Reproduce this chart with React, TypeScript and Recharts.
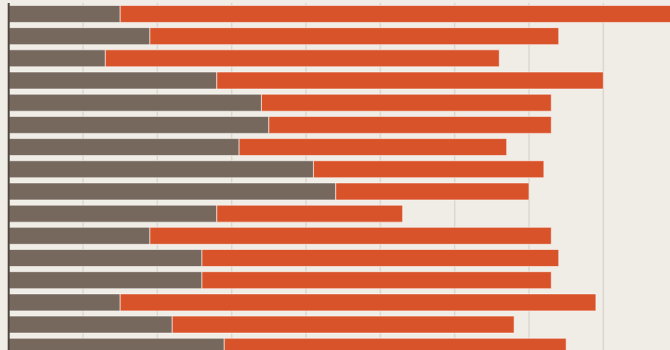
import { BarChart, Bar, XAxis, YAxis, CartesianGrid, ReferenceLine } from 'recharts';

// rows top to bottom, the chart is cropped so no labels show
const rows = ['r01', 'r02', 'r03', 'r04', 'r05', 'r06', 'r07', 'r08', 'r09', 'r10', 'r11', 'r12', 'r13', 'r14', 'r15', 'r16'];
const greyValues = [15, 19, 13, 28, 34, 35, 31, 41, 44, 28, 19, 26, 26, 15, 22, 29];
const redValues = [78, 55, 53, 52, 39, 38, 36, 31, 26, 25, 54, 48, 47, 64, 46, 46];
const xTicks = [0, 10, 20, 30, 40, 50, 60, 70, 80, 90, 100];

const data = rows.map((name, i) => ({ name, grey: greyValues[i], red: redValues[i] }));

const BG = '#f0ede6';

export default function App() {
  return (
    <div
      style={{
        position: 'fixed',
        top: 0,
        left: 0,
        width: 670,
        height: 350,
        overflow: 'hidden',
        background: BG,
      }}
    >
      <BarChart
        width={760}
        height={358}
        data={data}
        layout="vertical"
        margin={{ top: 3, right: 8, bottom: 0, left: 8.7 }}
        barCategoryGap="11%"
      >
        <CartesianGrid horizontal={false} stroke="#dcd8d0" strokeWidth={1.5} />
        <XAxis type="number" domain={[0, 100]} ticks={xTicks} hide />
        <YAxis type="category" dataKey="name" hide />
        <Bar dataKey="grey" stackId="a" fill="#76685d" stroke="#ffffff" strokeOpacity={0.55} strokeWidth={1} isAnimationActive={false} />
        <Bar dataKey="red" stackId="a" fill="#d9532a" stroke="#ffffff" strokeOpacity={0.55} strokeWidth={1} isAnimationActive={false} />
        <ReferenceLine x={0} stroke="#4f453f" strokeWidth={2} />
      </BarChart>
    </div>
  );
}
